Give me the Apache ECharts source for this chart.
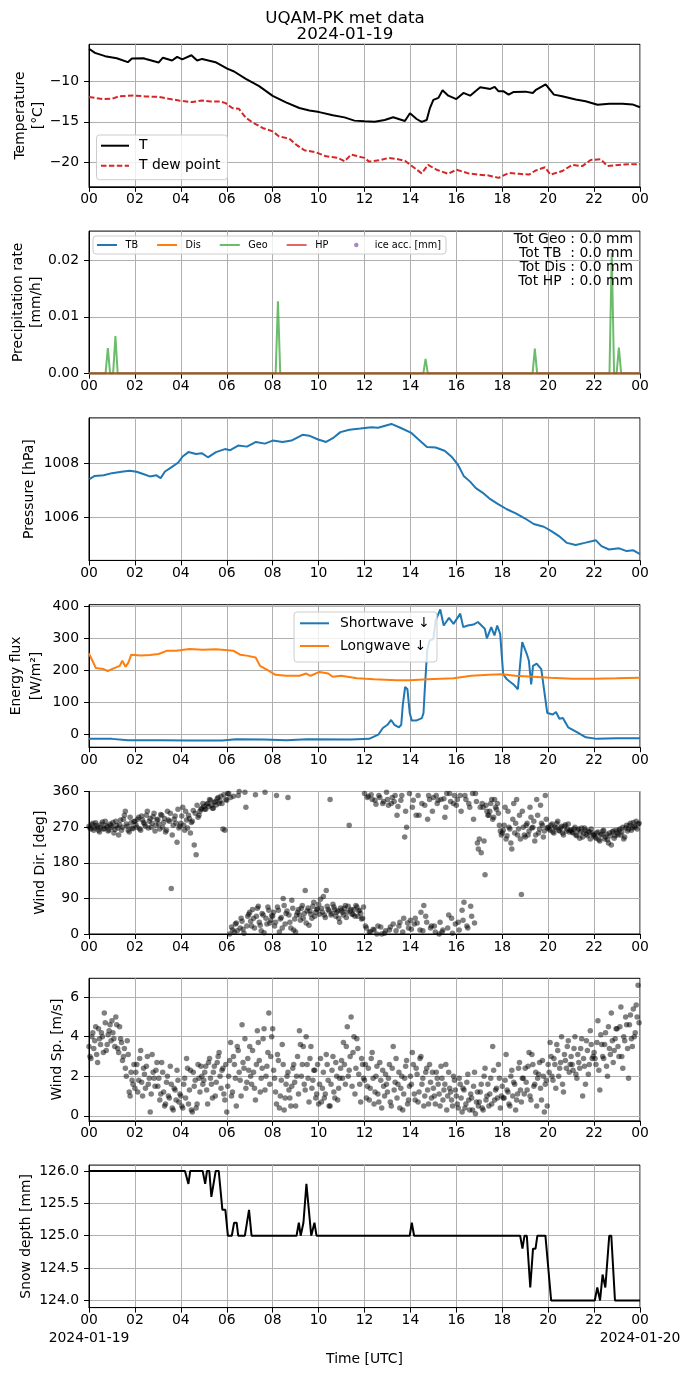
<!DOCTYPE html>
<html>
<head>
<meta charset="utf-8">
<title>UQAM-PK met data</title>
<script src="https://cdn.jsdelivr.net/npm/echarts@6.0.0/dist/echarts.min.js"></script>
<style>
html, body { margin: 0; padding: 0; background: #fff; }
#chart { width: 690px; height: 1377px; }
</style>
</head>
<body>
<div id="chart"></div>
<script>
// ---- data: [hour UTC, value] ----
var tempT = [[0,-6.0],[0.04,-6.17],[0.26,-6.5],[0.7,-6.91],[1.21,-7.16],[1.69,-7.65],[1.87,-7.2],[2.38,-7.16],[2.52,-7.3],
  [3.03,-7.7],[3.22,-7.1],[3.62,-7.45],[3.84,-7.0],[4.06,-7.3],[4.46,-6.8],[4.71,-7.45],[4.93,-7.25],[5.51,-7.65],
  [6.02,-8.45],[6.32,-8.8],[6.83,-9.7],[7.41,-10.6],[8.0,-11.8],[8.58,-12.6],[9.16,-13.3],[9.6,-13.6],[10.03,-13.8],
  [10.62,-14.2],[11.13,-14.45],[11.56,-14.85],[12.0,-14.93],[12.44,-15.0],[12.88,-14.77],[13.25,-14.44],[13.76,-14.9],
  [13.98,-13.95],[14.27,-14.65],[14.49,-15.0],[14.71,-14.77],[14.85,-13.3],[15.0,-12.3],[15.22,-12.05],[15.4,-11.1],
  [15.65,-11.78],[16.0,-12.2],[16.31,-11.44],[16.6,-11.78],[17.04,-10.75],[17.48,-10.95],[17.67,-10.7],[17.84,-11.24],
  [18.06,-11.24],[18.28,-11.65],[18.5,-11.32],[19.01,-11.28],[19.33,-11.44],[19.45,-11.1],[19.89,-10.4],[20.25,-11.65],
  [20.61,-11.85],[21.2,-12.26],[21.63,-12.47],[22.15,-12.9],[22.66,-12.76],[23.24,-12.76],[23.67,-12.85],[24.0,-13.2]];

var tempDew = [[0,-11.95],[0.63,-12.2],[1.0,-12.16],[1.3,-11.87],[1.94,-11.75],[2.45,-11.87],[3.03,-11.93],[3.47,-12.16],
  [3.91,-12.37],[4.49,-12.57],[4.93,-12.37],[5.3,-12.5],[5.73,-12.5],[5.95,-12.7],[6.24,-13.3],[6.53,-13.4],[6.83,-14.5],
  [7.12,-15.06],[7.56,-15.75],[8.0,-16.17],[8.28,-16.8],[8.72,-17.06],[9.02,-17.8],[9.38,-18.5],[9.89,-18.75],
  [10.33,-19.25],[10.84,-19.44],[11.13,-19.86],[11.42,-19.04],[12.0,-19.44],[12.2,-19.9],[12.7,-19.7],[13.05,-19.44],
  [13.46,-19.6],[13.76,-19.8],[14.05,-20.4],[14.49,-21.35],[14.77,-20.3],[15.14,-20.9],[15.65,-21.4],[16.0,-20.9],
  [16.53,-21.35],[16.96,-21.5],[17.4,-21.6],[17.84,-21.9],[18.28,-21.3],[18.72,-21.4],[19.16,-21.5],[19.45,-21.0],
  [19.86,-20.6],[20.1,-21.5],[20.61,-21.06],[21.05,-20.3],[21.49,-20.45],[21.85,-19.7],[22.29,-19.6],[22.58,-20.45],
  [23.24,-20.25],[24.0,-20.2]];

var precipGeo = [[0,0],[0.72,0],[0.82,0.0045],[0.92,0],[1.05,0],[1.15,0.0066],[1.25,0],[8.13,0],[8.23,0.01275],[8.33,0],
  [14.56,0],[14.66,0.0026],[14.76,0],[19.32,0],[19.42,0.0044],[19.52,0],[22.67,0],[22.77,0.0213],[22.87,0],
  [22.98,0],[23.08,0.0046],[23.18,0],[24,0]];
var precipTB = [[0,0],[24,0]];
var precipDis = [[0,0],[24,0]];
var precipHP = [[0,0],[24,0]];
var iceAcc = [];
var precipTotals = ['Tot Geo : 0.0 mm', 'Tot TB  : 0.0 mm', 'Tot Dis : 0.0 mm', 'Tot HP  : 0.0 mm'];

var pressure = [[0.02,1007.41],[0.25,1007.53],[0.64,1007.55],[1.0,1007.63],[1.49,1007.69],[1.78,1007.72],[2.07,1007.68],
  [2.36,1007.6],[2.65,1007.51],[2.94,1007.55],[3.12,1007.45],[3.31,1007.69],[3.6,1007.85],[3.89,1008.02],[4.08,1008.24],
  [4.33,1008.4],[4.66,1008.33],[4.91,1008.36],[5.18,1008.21],[5.53,1008.4],[5.92,1008.51],[6.15,1008.47],[6.5,1008.64],
  [6.88,1008.6],[7.27,1008.77],[7.66,1008.71],[8.0,1008.82],[8.43,1008.77],[8.82,1008.82],[9.3,1009.03],[9.59,1009.0],
  [9.98,1008.86],[10.33,1008.77],[10.66,1008.93],[10.95,1009.13],[11.34,1009.22],[11.82,1009.26],[12.3,1009.31],
  [12.59,1009.29],[13.17,1009.43],[13.56,1009.29],[14.04,1009.1],[14.33,1008.88],[14.72,1008.59],[15.1,1008.57],
  [15.49,1008.45],[15.78,1008.24],[16.07,1007.94],[16.32,1007.53],[16.6,1007.32],[16.85,1007.08],[17.14,1006.92],
  [17.43,1006.71],[17.82,1006.5],[18.2,1006.31],[18.59,1006.16],[18.98,1005.98],[19.37,1005.77],[19.81,1005.67],
  [20.14,1005.51],[20.47,1005.33],[20.82,1005.08],[21.2,1005.0],[21.59,1005.08],[22.07,1005.18],[22.32,1004.96],
  [22.65,1004.84],[23.09,1004.88],[23.42,1004.78],[23.71,1004.81],[24.0,1004.67]];

var shortwave = [[0,-14],[1.0,-14],[1.7,-18],[3.2,-18],[4.3,-19],[5.8,-19],[6.4,-15],[7.6,-16],[8.6,-18],[9.5,-15],
  [11.4,-16],[12.2,-14],[12.6,-1],[12.8,20],[13.0,30],[13.16,45],[13.3,30],[13.5,22],[13.6,30],[13.67,93],[13.77,148],
  [13.87,141],[13.97,67],[14.06,43],[14.25,43],[14.5,51],[14.57,67],[14.63,146],[14.73,261],[14.83,293],[15.0,298],
  [15.1,356],[15.3,390],[15.45,340],[15.68,364],[15.88,345],[16.17,377],[16.3,335],[16.5,340],[16.75,343],[16.94,351],
  [17.24,330],[17.33,300],[17.52,335],[17.66,309],[17.78,340],[17.91,314],[18.04,188],[18.2,172],[18.49,156],
  [18.68,141],[18.78,219],[18.87,288],[19.07,251],[19.16,230],[19.26,156],[19.34,214],[19.5,221],[19.7,204],
  [19.83,135],[19.96,67],[20.2,62],[20.34,70],[20.49,49],[20.64,51],[20.87,22],[21.25,7],[21.64,-9],[22.12,-14],
  [22.98,-12],[24,-12]];

var longwave = [[0,253],[0.15,230],[0.3,207],[0.63,204],[0.82,198],[1.1,207],[1.34,214],[1.45,230],[1.59,211],[1.72,225],
  [1.84,249],[2.26,246],[2.65,248],[3.03,251],[3.38,261],[3.8,261],[4.38,267],[4.95,264],[5.53,266],[6.3,261],
  [6.58,249],[6.87,246],[7.26,240],[7.45,214],[7.84,198],[8.12,186],[8.6,183],[9.17,183],[9.46,190],[9.65,183],
  [10.04,195],[10.42,190],[10.61,180],[10.99,183],[11.67,175],[12.43,172],[13.4,169],[13.98,169],[14.74,172],
  [15.89,175],[16.65,183],[17.42,186],[17.99,188],[18.57,183],[19.34,180],[20.1,177],[21.06,174],[22.02,174],
  [22.98,175],[24,177]];

// wind samples every 5 minutes (one row per hour); the B sets sit 2.5 min later
var windStepMin = 5;
var windDir = [
  272,265,280,268,275,262,270,283,266,274,260,278,
  270,255,285,268,276,262,290,310,272,258,281,266,
  285,270,295,262,288,278,300,268,292,280,305,275,
  290,265,300,282,258,310,285,115,275,298,232,268,
  280,320,262,288,300,255,285,225,200,295,310,318,
  322,315,330,340,325,318,335,342,330,348,265,262,
  338,355,345,10,5,28,350,15,32,2,320,45,
  55,20,40,352,65,30,8,48,358,25,60,35,
  45,20,350,60,38,15,72,52,345,30,85,10,
  5,55,48,65,40,110,58,22,50,70,45,62,
  75,88,55,48,110,62,340,52,68,45,58,30,
  60,48,72,55,275,62,50,45,68,58,52,40,
  355,15,348,5,340,10,328,20,345,0,335,8,
  340,10,330,25,350,300,20,338,5,245,270,15,
  35,320,25,300,350,10,330,72,45,290,340,20,
  345,5,330,0,340,10,295,355,48,335,2,350,
  325,30,350,60,80,340,15,320,45,290,355,230,
  240,205,320,150,310,300,330,290,340,315,305,260,
  255,275,240,310,265,215,330,280,250,300,100,270,
  245,280,260,295,270,235,340,255,325,275,260,290,
  270,262,278,255,268,285,260,272,250,276,265,258,
  262,255,270,248,265,258,245,268,252,260,240,255,
  250,242,258,235,252,262,245,238,255,225,260,248,
  255,262,250,270,245,275,265,280,268,272,285,278];
var windDirB = [
  268,276,262,281,270,258,277,265,285,271,263,275,
  282,264,274,250,288,270,300,278,262,295,268,284,
  276,290,266,298,282,272,310,285,270,296,260,288,
  278,302,270,292,262,288,305,250,290,280,315,272,
  298,275,310,268,292,282,312,305,325,300,315,330,
  315,328,322,338,318,332,326,345,336,330,352,340,
  355,0,18,348,25,8,360,40,12,358,20,50,
  32,62,15,45,70,22,52,3,40,68,28,47,
  55,30,68,5,42,90,25,58,48,15,65,38,
  48,62,35,72,52,28,66,58,40,80,55,63,
  50,65,95,42,70,58,48,75,62,55,40,66,
  55,65,42,70,58,50,62,72,45,60,38,68,
  20,345,5,352,12,338,0,350,18,330,2,358,
  325,18,345,335,8,322,30,350,40,310,28,355,
  12,338,40,28,300,55,8,325,30,350,15,310,
  20,350,338,30,5,342,320,15,355,40,330,25,
  340,10,310,35,350,20,330,70,355,28,335,215,
  320,330,235,325,300,310,340,295,320,330,275,250,
  262,320,248,270,230,290,255,340,265,240,310,250,
  275,250,320,268,285,250,300,265,280,245,350,268,
  265,275,258,270,280,262,268,255,272,260,278,262,
  258,265,250,262,242,268,255,262,248,258,265,250,
  245,255,238,250,260,240,252,230,248,258,242,262,
  250,265,258,240,268,260,275,262,282,270,265,280];
var windSpd = [
  3.5,2.9,4.2,3.8,3.1,4.4,3.6,4.0,5.2,3.3,4.1,4.6,
  4.8,3.9,5.0,3.4,4.5,3.7,3.0,2.4,3.8,1.2,2.2,1.6,
  1.4,2.6,1.8,3.3,1.0,2.1,2.5,1.6,0.2,3.1,1.9,2.3,
  1.5,0.8,2.7,1.2,0.6,2.0,0.9,1.6,0.3,1.3,2.3,0.7,
  1.0,0.4,1.9,2.9,0.6,2.3,0.2,1.5,0.4,2.6,1.2,2.0,
  1.8,2.5,0.6,2.9,1.6,2.2,1.0,2.7,3.2,1.4,2.4,0.8,
  0.2,2.0,3.7,1.2,2.6,0.5,3.3,1.8,4.6,2.4,1.4,2.9,
  3.5,1.6,2.2,0.8,4.3,2.8,1.9,3.9,1.3,2.5,5.2,3.0,
  4.4,1.9,0.6,2.8,1.0,3.6,0.3,1.6,2.2,0.9,1.5,2.6,
  0.5,3.0,4.3,2.0,3.5,1.3,2.6,0.7,3.5,1.8,2.3,1.1,
  0.6,2.9,1.4,0.9,3.1,1.8,0.5,2.3,1.2,2.7,0.8,1.9,
  2.8,3.7,1.6,4.5,2.3,5.0,3.2,1.1,3.9,2.1,0.7,2.6,
  1.8,0.9,2.4,1.4,3.2,0.6,2.0,1.1,2.7,0.4,1.5,2.1,
  1.2,2.6,0.5,3.5,1.7,0.9,2.2,1.4,0.3,1.9,2.8,0.8,
  2.0,3.2,1.1,2.4,0.7,2.9,1.6,0.5,2.2,1.3,2.6,0.9,
  1.4,0.6,1.9,1.1,2.5,0.8,1.6,0.3,2.2,1.2,0.5,1.8,
  1.0,0.4,1.6,0.2,1.3,0.6,2.1,0.3,0.9,1.5,0.1,1.2,
  0.7,1.6,0.3,2.4,1.0,0.5,1.9,3.5,0.8,1.4,2.6,0.4,
  1.5,0.9,3.1,1.2,0.5,2.3,1.7,0.3,1.1,2.7,0.7,1.9,
  2.4,1.3,3.2,0.8,2.6,1.6,0.5,2.1,1.4,2.8,0.2,1.8,
  2.6,3.7,2.0,2.9,1.4,3.3,2.4,4.0,1.2,2.8,3.5,2.2,
  3.0,2.3,4.0,1.9,2.7,3.4,1.0,2.5,3.8,2.1,4.3,2.9,
  3.2,2.6,4.8,1.3,3.6,2.9,4.2,2.0,3.4,5.2,2.7,3.9,
  4.4,3.0,5.5,2.4,3.8,4.6,1.9,5.1,3.5,4.0,5.6,6.6];
var windSpdB = [
  3.0,4.0,3.4,4.5,2.7,3.9,4.2,3.2,4.7,3.6,4.3,3.8,
  4.2,3.5,4.6,3.2,3.9,2.8,3.4,2.0,3.1,1.0,1.8,2.6,
  2.2,1.2,2.9,1.7,2.4,1.4,3.0,1.9,1.1,2.2,1.5,2.7,
  1.9,1.1,2.2,0.5,1.7,1.0,2.5,0.4,1.4,0.8,1.8,1.1,
  0.5,1.6,0.9,2.4,1.3,0.3,2.2,1.8,0.6,1.9,2.5,1.6,
  2.2,1.3,2.7,1.9,0.9,2.5,1.7,3.0,2.0,2.3,1.1,2.6,
  1.5,2.8,1.0,3.0,1.9,3.5,2.2,1.0,2.7,3.9,1.7,2.3,
  2.0,3.3,1.4,2.6,3.7,1.2,2.4,4.4,2.0,3.2,1.6,4.0,
  2.3,1.2,3.1,0.4,1.8,2.6,0.9,2.0,1.3,0.5,2.4,1.7,
  2.0,1.1,3.6,2.6,1.6,4.0,1.9,2.9,1.4,2.3,0.9,2.6,
  1.6,0.7,2.2,1.1,2.6,0.5,1.6,3.0,0.9,2.0,1.4,2.4,
  1.9,2.6,3.5,2.0,3.0,1.5,4.0,2.4,3.4,1.6,2.9,1.9,
  2.6,1.5,0.8,2.9,1.9,1.2,2.5,0.7,1.8,2.3,1.0,1.6,
  1.9,0.7,2.4,1.3,2.9,1.6,0.4,2.0,1.1,2.5,0.6,1.5,
  1.6,2.6,0.8,2.1,1.2,3.0,1.9,1.0,2.4,0.6,1.7,2.2,
  1.0,2.2,1.6,0.5,1.9,1.3,2.6,1.0,1.4,0.8,2.0,1.3,
  0.6,1.9,0.9,1.4,0.4,1.7,0.8,1.1,0.3,2.2,0.7,0.5,
  1.2,0.4,2.0,0.8,1.6,1.1,0.6,2.3,1.3,0.9,1.9,1.0,
  0.9,1.8,1.3,0.6,2.0,1.0,1.6,0.8,2.4,1.3,1.9,1.1,
  1.7,2.5,1.0,3.1,1.5,2.2,1.9,2.7,0.8,2.0,1.6,0.5,
  2.2,3.0,1.8,2.6,3.6,2.0,2.7,1.6,3.1,2.4,3.8,2.6,
  2.6,3.4,2.1,3.1,2.4,3.9,2.9,1.6,3.3,2.6,3.6,3.0,
  2.9,3.7,2.3,4.1,3.0,3.6,2.5,4.5,3.1,3.8,3.3,4.4,
  3.5,4.5,3.0,4.0,5.0,3.4,4.6,3.9,5.4,4.2,5.0,4.7];

var snowDepth = [[0,126.0],[4.18,126.0],[4.33,125.8],[4.41,126.0],[4.95,126.0],[5.06,125.8],[5.14,126.0],[5.24,126.0],
  [5.33,125.6],[5.52,126.0],[5.65,126.0],[5.81,125.4],[5.94,125.4],[6.05,125.0],[6.22,125.0],[6.32,125.2],[6.43,125.2],
  [6.5,125.0],[6.79,125.0],[6.97,125.4],[7.08,125.0],[9.04,125.0],[9.14,125.2],[9.22,125.0],[9.34,125.2],[9.47,125.8],
  [9.68,125.0],[9.82,125.2],[9.91,125.0],[13.97,125.0],[14.06,125.2],[14.16,125.0],[18.78,125.0],[18.88,124.8],
  [18.97,125.0],[19.07,125.0],[19.22,124.2],[19.34,124.8],[19.45,124.8],[19.53,125.0],[19.88,125.0],[20.13,124.0],
  [22.03,124.0],[22.14,124.2],[22.26,124.0],[22.37,124.4],[22.49,124.2],[22.66,125.0],[22.75,125.0],[22.91,124.0],
  [24,124.0]];

// tick values per panel
var tempTicks = [-20, -15, -10];
var precipTicks = [0, 0.01, 0.02];
var presTicks = [1006, 1008];
var fluxTicks = [0, 100, 200, 300, 400];
var dirTicks = [0, 90, 180, 270, 360];
var spdTicks = [0, 2, 4, 6];
var snowTicks = [124.0, 124.5, 125.0, 125.5, 126.0];
var dateTicks = [0, 24];
var dateLabels = ['2024-01-19', '2024-01-20'];

var FONT = 'DejaVu Sans';
var TOPS = [44.3, 231.1, 417.9, 604.7, 791.5, 978.3, 1165.1];

function pad2(h) { return (h < 10 ? '0' : '') + h; }
function hourLabel(v) { return pad2(Math.round(v) % 24); }
function numFmt(d) {
  return function (v) { return v.toFixed(d).replace('-', '\u2212'); };
}
function windPoints(vals, offsetMin) {
  return vals.map(function (v, i) { return [(i * windStepMin + offsetMin) / 60, v]; });
}

var txt = { fontFamily: FONT, fontSize: 13.9, color: '#000' };

var grids = TOPS.map(function (t) {
  return { left: 89, right: 50, top: t, height: 142.5, show: true, borderColor: '#000', borderWidth: 1,
           backgroundColor: '#fff', containLabel: false, outerBoundsMode: 'none' };
});
// extra invisible grid over the last panel, only to carry the date line
grids.push({ left: 89, right: 50, top: TOPS[6], height: 142.5, show: false, containLabel: false, outerBoundsMode: 'none' });

var xAxes = TOPS.map(function (t, i) {
  var last = i === TOPS.length - 1;
  return {
    type: 'value', gridIndex: i, position: 'bottom', min: 0, max: 24, interval: 2,
    axisLine: { show: true, onZero: false, lineStyle: { color: '#000', width: 1 } },
    axisTick: { show: true, inside: false, length: 5, lineStyle: { color: '#000', width: 1 } },
    splitLine: { show: true, lineStyle: { color: '#b0b0b0', width: 1 } },
    axisLabel: { show: true, margin: 6, fontFamily: FONT, fontSize: 13.9, color: '#000',
                 showMinLabel: true, showMaxLabel: true, hideOverlap: false, formatter: hourLabel },
    name: last ? 'Time [UTC]' : '', nameLocation: 'middle', nameGap: 45, nameMoveOverlap: false,
    nameTextStyle: txt
  };
});
xAxes.push({
  type: 'value', gridIndex: 7, position: 'bottom', min: 0, max: 24,
  axisLine: { show: false, onZero: false }, axisTick: { show: false }, splitLine: { show: false },
  axisLabel: { show: true, margin: 23.5, customValues: dateTicks, fontFamily: FONT, fontSize: 13.9, color: '#000',
               showMinLabel: true, showMaxLabel: true, hideOverlap: false,
               formatter: function (v) { return dateLabels[dateTicks.indexOf(v)]; } }
});

function yAxis(i, min, max, ticks, dec, name, gap, lh) {
  return {
    type: 'value', gridIndex: i, min: min, max: max,
    axisLine: { show: true, lineStyle: { color: '#000', width: 1 } },
    axisTick: { show: true, inside: false, length: 5, customValues: ticks, lineStyle: { color: '#000', width: 1 } },
    splitLine: { show: true, lineStyle: { color: '#b0b0b0', width: 1 } },
    axisLabel: { show: true, margin: 10, customValues: ticks, formatter: numFmt(dec),
                 fontFamily: FONT, fontSize: 13.9, color: '#000' },
    name: name, nameLocation: 'middle', nameGap: gap, nameMoveOverlap: false,
    nameTextStyle: { fontFamily: FONT, fontSize: 13.9, color: '#000', lineHeight: lh, align: 'center' }
  };
}

var yAxes = [
  yAxis(0, -23.0, -5.45, tempTicks, 0, 'Temperature\n[°C]', 41, 18.5),
  yAxis(1, 0, 0.0251, precipTicks, 2, 'Precipitation rate\n[mm/h]', 43.3, 18.5),
  yAxis(2, 1004.44, 1009.65, presTicks, 0, 'Pressure [hPa]', 50.8, 17),
  yAxis(3, -40, 405, fluxTicks, 0, 'Energy flux\n[W/m\u00b2]', 43.1, 19.5),
  yAxis(4, 0, 360, dirTicks, 0, 'Wind Dir. [deg]', 40.2, 17),
  yAxis(5, -0.25, 6.95, spdTicks, 0, 'Wind Sp. [m/s]', 23.5, 17),
  yAxis(6, 123.89, 126.09, snowTicks, 1, 'Snow depth [mm]', 54.3, 17),
  { type: 'value', gridIndex: 7, min: 0, max: 1, show: false }
];

function line(i, name, data, color, width, dash, opacity) {
  return {
    type: 'line', name: name, xAxisIndex: i, yAxisIndex: i, data: data,
    symbol: 'none', showSymbol: false, animation: false, clip: true,
    itemStyle: { color: color },
    lineStyle: { color: color, width: width, type: dash || 'solid', opacity: opacity == null ? 1 : opacity }
  };
}
function dots(i, name, data, color, opacity) {
  return {
    type: 'scatter', name: name, xAxisIndex: i, yAxisIndex: i, data: data,
    symbol: 'circle', symbolSize: 5.5, animation: false,
    itemStyle: { color: color, opacity: opacity, borderWidth: 0 }
  };
}

var series = [
  line(0, 'T', tempT, '#000000', 2),
  line(0, 'T dew point', tempDew, '#d62728', 2, [5.5, 2.4]),
  line(1, 'TB', precipTB, '#1f77b4', 2),
  line(1, 'Dis', precipDis, '#ff7f0e', 2),
  line(1, 'Geo', precipGeo, '#2ca02c', 2, null, 0.7),
  line(1, 'HP', precipHP, '#d62728', 2, null, 0.7),
  dots(1, 'ice acc. [mm]', iceAcc, '#9467bd', 0.8),
  line(2, 'Pressure', pressure, '#1f77b4', 2),
  line(3, 'Shortwave \u2193', shortwave, '#1f77b4', 2),
  line(3, 'Longwave \u2193', longwave, '#ff7f0e', 2),
  dots(4, 'Wind Dir.', windPoints(windDir, 0), '#000000', 0.5),
  dots(4, 'Wind Dir. B', windPoints(windDirB, 2.5), '#000000', 0.5),
  dots(5, 'Wind Sp.', windPoints(windSpd, 0), '#000000', 0.5),
  dots(5, 'Wind Sp. B', windPoints(windSpdB, 2.5), '#000000', 0.5),
  line(6, 'Snow depth', snowDepth, '#000000', 2)
];

var legendBox = { backgroundColor: 'rgba(255,255,255,0.8)', borderColor: '#cccccc', borderWidth: 1,
                  borderRadius: 3, selectedMode: false, itemStyle: { opacity: 0 } };

var legends = [
  Object.assign({
    data: ['T', 'T dew point'], orient: 'vertical', left: 96.5, top: 135,
    itemWidth: 28, itemHeight: 14, itemGap: 6, padding: [3.7, 7, 7, 3.5],
    textStyle: { fontFamily: FONT, fontSize: 13.9, color: '#000', padding: [0, 0, 0, 5] }
  }, legendBox),
  Object.assign({
    data: ['TB', 'Dis', 'Geo', 'HP',
           { name: 'ice acc. [mm]', itemStyle: { opacity: 0.8 },
             icon: 'path://M0,0M20,10M7.8,5A2.2,2.2,0,1,1,12.2,5A2.2,2.2,0,1,1,7.8,5Z' }],
    orient: 'horizontal', left: 93, top: 236,
    itemWidth: 20, itemHeight: 10, itemGap: 18, padding: [4, 5, 4, 3],
    textStyle: { fontFamily: FONT, fontSize: 9.7, color: '#000', padding: [0, 0, 0, 3.5] }
  }, legendBox),
  Object.assign({
    data: ['Shortwave \u2193', 'Longwave \u2193'], orient: 'vertical', left: 294, top: 612,
    itemWidth: 29, itemHeight: 14, itemGap: 8.7, padding: [4.3, 7, 9, 5],
    textStyle: { fontFamily: FONT, fontSize: 13.9, color: '#000', padding: [0, 0, 0, 6] }
  }, legendBox)
];

var option = {
  backgroundColor: '#fff',
  animation: false,
  title: {
    text: 'UQAM-PK met data\n2024-01-19', left: 'center', top: 5,
    textStyle: { fontFamily: FONT, fontSize: 16.7, fontWeight: 'normal', color: '#000', lineHeight: 16.7 }
  },
  legend: legends,
  grid: grids,
  xAxis: xAxes,
  yAxis: yAxes,
  series: series,
  graphic: [{
    type: 'text', x: 633, y: 232, z: 100,
    style: { text: precipTotals.join('\n'), align: 'right', verticalAlign: 'top',
             fontFamily: FONT, fontSize: 13.9, lineHeight: 14, fill: '#000' }
  }]
};

var myChart = echarts.init(document.getElementById('chart'), null, { renderer: 'canvas' });
if (option && typeof option === 'object') {
  myChart.setOption(option, true);
}
</script>
</body>
</html>
